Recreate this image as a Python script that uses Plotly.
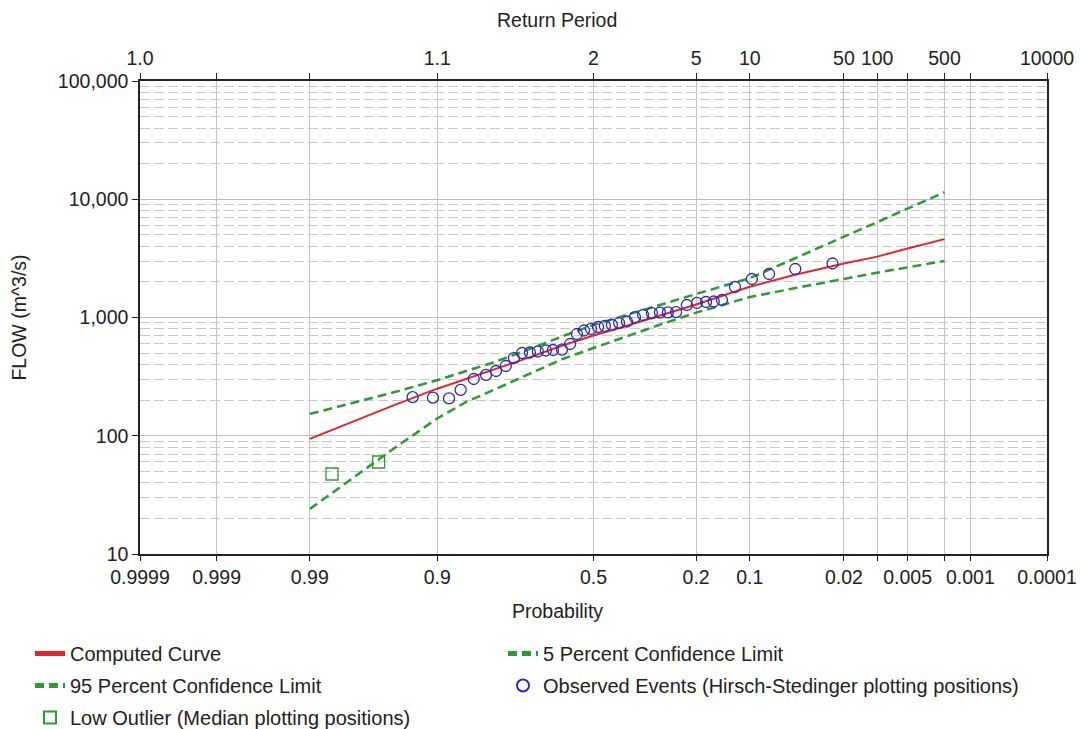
import plotly.graph_objects as go
from statistics import NormalDist

# ---------------- data ----------------
# exceedance probabilities used for the computed curve and confidence limits
curve_prob = [0.99, 0.95, 0.9, 0.85, 0.8, 0.7, 0.6, 0.5, 0.4, 0.3, 0.2, 0.1, 0.05, 0.02, 0.01, 0.005, 0.002]
computed_flow = [94, 180, 250, 304, 355, 460, 580, 705, 840, 1025, 1290, 1820, 2290, 2860, 3270, 3830, 4600]
conf5_flow = [153, 232, 295, 355, 410, 540, 695, 865, 1040, 1265, 1580, 2150, 3160, 4820, 6400, 8320, 11460]
conf95_flow = [24, 77, 140, 195, 238, 335, 446, 552, 684, 855, 1100, 1488, 1766, 2138, 2394, 2654, 3006]

obs_prob = [0.931, 0.906, 0.882, 0.862, 0.837, 0.811, 0.788, 0.764, 0.743, 0.721,
            0.699, 0.676, 0.652, 0.630, 0.602, 0.576, 0.554, 0.531, 0.508, 0.485,
            0.463, 0.440, 0.417, 0.392, 0.367, 0.342, 0.316, 0.293, 0.271, 0.249,
            0.222, 0.198, 0.178, 0.162, 0.146, 0.123, 0.097, 0.075, 0.049, 0.025]
obs_flow = [212, 210, 207, 244, 302, 327, 353, 389, 454, 501,
            506, 516, 526, 531, 535, 597, 725, 776, 800, 831,
            848, 865, 898, 925, 1009, 1050, 1091, 1101, 1105, 1112,
            1276, 1327, 1352, 1365, 1406, 1811, 2117, 2333, 2572, 2862]

outlier_prob = [0.984, 0.961]
outlier_flow = [47.5, 60]

prob_ticks = [0.9999, 0.999, 0.99, 0.9, 0.5, 0.2, 0.1, 0.02, 0.01, 0.005, 0.002, 0.001, 0.0001]
prob_labels = ["0.9999", "0.999", "0.99", "0.9", "0.5", "0.2", "0.1", "0.02", "", "0.005", "", "0.001", "0.0001"]
rp_ticks = [1.0001, 1.001, 1.0101, 1.1111, 2, 5, 10, 50, 100, 200, 500, 1000, 10000]
rp_labels = ["1.0", "", "", "1.1", "2", "5", "10", "50", "100", "", "500", "", "10000"]

flow_ticks = [10, 100, 1000, 10000, 100000]
flow_labels = ["10", "100", "1,000", "10,000", "100,000"]
flow_minor = [m * d for d in (10, 100, 1000, 10000) for m in range(2, 10)]

# ---------------- probability-paper transform ----------------
nd = NormalDist()


def zp(p):
    """exceedance probability -> standard normal variate (normal probability scale)"""
    return nd.inv_cdf(1 - p)


xr = [zp(0.9999), zp(0.0001)]
FONT = "Liberation Sans, Arial, sans-serif"
FS = 19.5
TXT = "#222222"
RED = "#e3262b"
GREEN = "#2e9a35"
BLUE = "#2a2ab8"
PL, PT, PW, PH = 140, 81, 907, 473   # plot area in px (for placing texts)

fig = go.Figure()
fig.add_trace(go.Scatter(x=[zp(p) for p in curve_prob], y=computed_flow, mode="lines",
                         name="Computed Curve", legend="legend", legendrank=1, legendgroup="g1",
                         line=dict(color=RED, width=2)))
fig.add_trace(go.Scatter(x=[zp(p) for p in curve_prob], y=conf5_flow, mode="lines",
                         name="5 Percent Confidence Limit", legend="legend2", legendrank=1, legendgroup="g2",
                         line=dict(color=GREEN, width=2.5, dash="9px,5px")))
fig.add_trace(go.Scatter(x=[zp(p) for p in curve_prob], y=conf95_flow, mode="lines",
                         name="95 Percent Confidence Limit", legend="legend", legendrank=2, legendgroup="g3",
                         line=dict(color=GREEN, width=2.5, dash="9px,5px")))
fig.add_trace(go.Scatter(x=[zp(p) for p in obs_prob], y=obs_flow, mode="markers",
                         name="Observed Events (Hirsch-Stedinger plotting positions)",
                         legend="legend2", legendrank=2, legendgroup="g4",
                         marker=dict(symbol="circle-open", size=11, color=BLUE, line=dict(width=1.3))))
fig.add_trace(go.Scatter(x=[zp(p) for p in outlier_prob], y=outlier_flow, mode="markers",
                         name="Low Outlier (Median plotting positions)", legend="legend", legendrank=3,
                         legendgroup="g5",
                         marker=dict(symbol="square-open", size=12, color=GREEN, line=dict(width=1.3))))
# carrier for the top return-period axis
fig.add_trace(go.Scatter(x=[zp(1 / t) for t in rp_ticks], y=[1000] * len(rp_ticks), xaxis="x2",
                         mode="markers", marker=dict(opacity=0), showlegend=False, hoverinfo="skip"))

leg_common = dict(orientation="v", xanchor="left", yanchor="top", font=dict(size=20, color=TXT),
                  bgcolor="rgba(0,0,0,0)", itemsizing="constant", traceorder="grouped",
                  tracegroupgap=3)
fig.update_layout(
    width=1080, height=729,
    margin=dict(l=PL, r=33, t=PT, b=175, autoexpand=False),
    paper_bgcolor="white", plot_bgcolor="white",
    font=dict(family=FONT, size=FS, color=TXT),
    showlegend=True,
    legend=dict(x=(30 - PL) / PW, y=-(634 - 554) / PH, **leg_common),
    legend2=dict(x=(503 - PL) / PW, y=-(634 - 554) / PH, **leg_common),
    xaxis=dict(range=xr, tickmode="array", tickvals=[zp(p) for p in prob_ticks], ticktext=prob_labels,
               showgrid=True, gridcolor="#c4c4c4", gridwidth=1, zeroline=False, automargin=False,
               showline=True, linecolor="#222222", linewidth=1.5, ticks="outside", ticklen=5,
               tickcolor="#222222", tickfont=dict(size=FS, color=TXT)),
    xaxis2=dict(range=xr, overlaying="x", side="top", tickmode="array", automargin=False,
                tickvals=[zp(1 / t) for t in rp_ticks], ticktext=rp_labels,
                showgrid=False, zeroline=False, showline=True, linecolor="#222222", linewidth=1.5,
                ticks="outside", ticklen=6, tickcolor="#222222", tickfont=dict(size=FS, color=TXT)),
    yaxis=dict(type="log", range=[1, 5], tickmode="array", tickvals=flow_ticks, ticktext=flow_labels,
               showgrid=True, gridcolor="#bdbdbd", gridwidth=1, zeroline=False, automargin=False,
               showline=True, linecolor="#222222", linewidth=1.5, mirror=True,
               ticks="outside", ticklen=6, tickcolor="#222222", tickfont=dict(size=FS, color=TXT),
               title=dict(text="FLOW (m^3/s)", font=dict(size=FS, color=TXT), standoff=26),
               minor=dict(tickmode="array", tickvals=flow_minor, showgrid=True,
                          gridcolor="#c8c8c8", griddash="10px,4px", gridwidth=1, ticks="")),
    annotations=[
        dict(text="Return Period", xref="paper", yref="paper", x=(557 - PL) / PW, y=1 + (PT - 20) / PH,
             xanchor="center", yanchor="middle", showarrow=False, font=dict(size=FS, color=TXT)),
        dict(text="Probability", xref="paper", yref="paper", x=(557 - PL) / PW, y=-(611 - 554) / PH,
             xanchor="center", yanchor="middle", showarrow=False, font=dict(size=FS, color=TXT)),
    ],
)

fig.write_html("out.html")
